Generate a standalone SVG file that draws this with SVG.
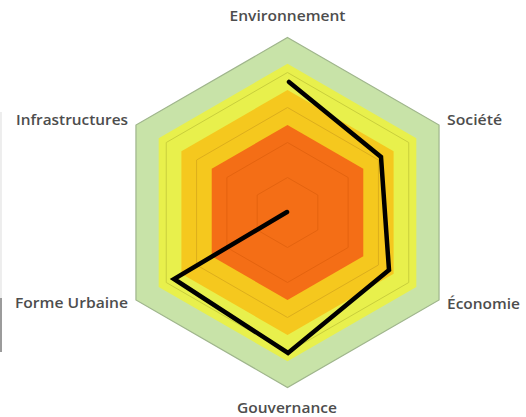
<svg xmlns="http://www.w3.org/2000/svg" width="526" height="417" viewBox="0 0 526 417">
  <style>
    .lbl { font-family: "Open Sans", "Liberation Sans", Arial, sans-serif; font-size: 14px; font-weight: 600; fill: #4d4d4d; }
    .grid { fill: none; stroke-width: 1; }
  </style>
  <rect width="526" height="417" fill="#ffffff"/>
  <g id="bands">
    <polygon points="287.5,37.5 439.05,125 439.05,300 287.5,387.5 135.95,300 135.95,125" fill="#c8e3a8" stroke="#9fb58c" stroke-width="1.2"/>
    <polygon points="287.5,63.75 416.32,138.13 416.32,286.88 287.5,361.25 158.68,286.88 158.68,138.13" fill="#e8f04c"/>
    <polygon points="287.5,90 393.59,151.25 393.59,273.75 287.5,335 181.41,273.75 181.41,151.25" fill="#f5c81e"/>
    <polygon points="287.5,125 363.28,168.75 363.28,256.25 287.5,300 211.72,256.25 211.72,168.75" fill="#f46e16"/>
  </g>
  <g id="grid">
    <polygon class="grid" stroke="#c9cf3c" points="287.5,72.5 408.74,142.5 408.74,282.5 287.5,352.5 166.26,282.5 166.26,142.5"/>
    <polygon class="grid" stroke="#dcae1c" points="287.5,107.5 378.43,160 378.43,265 287.5,317.5 196.57,265 196.57,160"/>
    <polygon class="grid" stroke="#e4630f" points="287.5,142.5 348.12,177.5 348.12,247.5 287.5,282.5 226.88,247.5 226.88,177.5"/>
    <polygon class="grid" stroke="#e4630f" points="287.5,177.5 317.81,195 317.81,230 287.5,247.5 257.19,230 257.19,195"/>
  </g>
  <g id="connectors">
    <polyline points="289,82 381,157 389,270 288,353 174,279 287,212" fill="none" stroke="#000000" stroke-width="4.5" stroke-linejoin="miter" stroke-linecap="round"/>
  </g>
  <g id="node-environnement"><text class="lbl" x="229.5" y="21" textLength="116" lengthAdjust="spacingAndGlyphs">Environnement</text></g>
  <g id="node-societe"><text class="lbl" x="447" y="125" textLength="55" lengthAdjust="spacingAndGlyphs">Société</text></g>
  <g id="node-economie"><text class="lbl" x="447" y="309" textLength="73" lengthAdjust="spacingAndGlyphs">Économie</text></g>
  <g id="node-gouvernance"><text class="lbl" x="237" y="413" textLength="100" lengthAdjust="spacingAndGlyphs">Gouvernance</text></g>
  <g id="node-forme-urbaine"><text class="lbl" x="15" y="308" textLength="113" lengthAdjust="spacingAndGlyphs">Forme Urbaine</text></g>
  <g id="node-infrastructures"><text class="lbl" x="16" y="125" textLength="112" lengthAdjust="spacingAndGlyphs">Infrastructures</text></g>
  <g id="edge-mark">
    <line x1="1" y1="112" x2="1" y2="298" stroke="#e2e2e2" stroke-width="1.2"/>
    <line x1="1" y1="298" x2="1" y2="352" stroke="#7a7a7a" stroke-width="1.5"/>
  </g>
</svg>
